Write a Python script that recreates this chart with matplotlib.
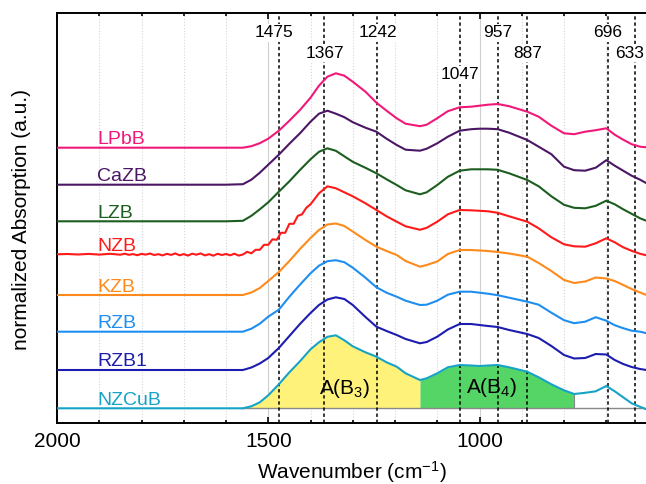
import matplotlib.pyplot as plt
from matplotlib.ticker import MultipleLocator

plt.rcParams['font.family'] = ['Liberation Sans', 'DejaVu Sans']
plt.rcParams['mathtext.default'] = 'regular'

# common wavenumber grid (cm-1)
wn = [2000, 1600, 1560, 1540, 1520, 1500, 1475, 1450, 1425, 1400,
      1380, 1360, 1340, 1320, 1300, 1270, 1244, 1220, 1196, 1175,
      1141, 1125, 1100, 1075, 1047, 1020, 1000, 980, 957, 930,
      887, 860, 830, 800, 776, 750, 725, 700, 680, 660,
      640, 620, 605]

# heights above each baseline (a.u.)
lpbb = [0, 0, 0, 1.5, 4.5, 9, 17, 27, 37.7, 50,
        62, 71, 74.4, 72, 66, 56, 45, 37, 29.4, 24,
        21.5, 23, 29.5, 36.5, 40.4, 41, 42, 43, 43.7, 41.5,
        36, 31, 22, 14.4, 13.5, 16, 17.5, 19.4, 13, 8,
        3.5, 1, 0.4]
cazb = [0, 0, 0.5, 5, 12, 20, 30, 41, 51.4, 63,
        71, 74, 71, 67.5, 62.5, 57, 53, 46, 39.7, 35,
        34, 36, 41.4, 48, 54, 55.5, 56, 56, 55.5, 52,
        44.7, 38, 30.5, 18, 14.5, 14, 17, 24.5, 19, 14,
        9, 5, 1.5]
lzb = [0, 0, 0.5, 5.5, 12, 19, 29.6, 40, 51.3, 62,
       69.5, 73, 70.5, 65, 59.5, 53.5, 48, 42, 36.3, 31,
       27, 29, 36.3, 44.5, 50.6, 52, 52, 52, 51.5, 48,
       41.3, 35, 25, 16.5, 13.5, 13, 15.5, 20.6, 17, 12,
       7.5, 3, 0.5]
kzb = [0, 0, 0, 2.5, 7, 14, 23, 34, 46, 57,
       65, 70.5, 71.5, 69, 63.5, 55, 48.3, 44, 40, 34,
       28.3, 30, 33.5, 41, 45, 45, 44.5, 44, 43, 41.5,
       38.3, 32, 24, 15, 12, 13.5, 17.5, 16.5, 14, 10,
       6, 2.5, 0]
rzb = [0, 0, 0, 3, 8, 15, 22, 35, 47, 58.4,
       66, 70.5, 71.5, 69.5, 64, 54, 44.4, 39, 35, 31,
       26.7, 27, 31, 37, 40, 40, 39, 38, 36.5, 34,
       30, 27, 19, 11.5, 8.5, 10, 14.5, 11, 6.5, 3.5,
       1, 0, -1.5]
rzb1 = [0, 0, 0, 2.5, 6.5, 12, 22, 34, 46, 57,
        65, 70.5, 72.7, 71, 65, 53, 43.3, 39, 35, 31,
        26.7, 28, 33.3, 40.5, 46, 46, 45, 44, 43, 40,
        36, 32, 24, 15, 11.5, 12, 16, 15.5, 10, 6,
        3, 1, 0]
nzcub = [0, 0, 0, 2, 6, 13, 24, 36, 47, 59,
         66, 71.5, 73, 68, 62, 56, 51.6, 46, 41.6, 35,
         28.3, 30, 35, 41, 43.3, 42.8, 42.3, 42.8, 43.3, 41,
         36.6, 31, 24, 18, 14.3, 15.5, 17, 22.3, 17, 11,
         5, 1.5, -1]

# NZB is noisy, so it has its own, denser grid
nzb_wn = [2000, 1975, 1950, 1925, 1900, 1875, 1850, 1840, 1830, 1820,
          1810, 1800, 1790, 1780, 1770, 1760, 1750, 1740, 1730, 1720,
          1710, 1700, 1690, 1680, 1670, 1660, 1650, 1640, 1630, 1620,
          1610, 1600, 1590, 1580, 1570, 1560, 1550, 1540, 1530, 1520,
          1510, 1500, 1490, 1480, 1470, 1460, 1450, 1440, 1430, 1420,
          1410, 1400, 1390, 1380, 1360, 1340, 1320, 1300, 1270, 1244,
          1220, 1196, 1175, 1141, 1125, 1100, 1075, 1047, 1020, 1000,
          980, 957, 930, 887, 860, 830, 800, 776, 750, 725,
          700, 680, 660, 640, 620, 605]
nzb = [0, 0.3, -0.2, 0.4, -0.3, 0.5, -0.4, 0.6, -0.5, 0.2,
       -0.9, 0.4, -0.3, 0.8, -0.7, 0.1, -1.1, 0.5, -0.6, 0.9,
       -1.0, 0.2, -1.3, 0.6, -0.4, 0.9, -1.1, 0.1, -1.4, 0.5,
       -0.7, 0.3, -1.0, 0.6, -1.3, -0.2, 2.5, 1, 4.5, 4.5,
       9.5, 9.5, 15, 14.5, 21.5, 21.5, 30.5, 30.5, 38.5, 40,
       46.5, 50, 55.5, 61, 68, 66, 62, 58, 51, 44.3,
       38, 32.6, 28, 24.5, 26.5, 32.6, 40, 44.3, 44, 43.5,
       43, 41.5, 38, 32.6, 26, 17, 10, 8, 7.6, 11,
       16, 12, 7, 3.5, 0.5, -1]

names = ['LPbB', 'CaZB', 'LZB', 'NZB', 'KZB', 'RZB', 'RZB1', 'NZCuB']
offsets = [260.6, 223.6, 187, 154, 113.3, 76.6, 38.3, 0]
colors = ['#f0197a', '#4b1764', '#1c5e1f', '#ff1a1a', '#ff8a1c',
          '#1e8ef0', '#1c1cb0', '#16a3c6']
series = [(wn, lpbb), (wn, cazb), (wn, lzb), (nzb_wn, nzb), (wn, kzb),
          (wn, rzb), (wn, rzb1), (wn, nzcub)]

peaks = [1475, 1367, 1242, 1047, 957, 887, 696, 633]
peak_text_x = [1487, 1367, 1240, 1047, 957, 887, 696, 644]
peak_row = [0, 1, 0, 2, 0, 1, 0, 1]
row_y = [0.952, 0.903, 0.850]

b3_range = (1600, 1141)
b4_range = (1141, 776)
baseline_start = 1565

fig = plt.figure(figsize=(6.46, 4.84), dpi=100)
ax = fig.add_axes([57 / 646, 60.7 / 484, 589 / 646, 410 / 484])
ax.set_xlim(2000, 606)
ax.set_ylim(-15, 395)

# vertical grid
for g in range(700, 2000, 100):
    if g % 500 == 0:
        ax.axvline(g, color='#cfcfcf', lw=0.8, zorder=0)
    else:
        ax.axvline(g, color='#d6d6d6', lw=0.8, ls=':', zorder=0)

# area fills on NZCuB
ax.fill_between(wn, 0, nzcub, where=[b3_range[1] <= w <= b3_range[0] for w in wn],
                color='#fff27a', lw=0, zorder=1)
ax.fill_between(wn, 0, nzcub, where=[b4_range[1] <= w <= b4_range[0] for w in wn],
                color='#55d566', lw=0, zorder=1)
ax.vlines(b4_range[1], 0, nzcub[wn.index(b4_range[1])], color='#888888', lw=0.8, zorder=1.5)
ax.hlines(0, baseline_start, 606, color='#888888', lw=1.0, zorder=1.5)

ax.text(1319, 20, 'A(B$_3$)', fontsize=15, ha='center', va='center', zorder=4)
ax.text(972, 21, 'A(B$_4$)', fontsize=15, ha='center', va='center', zorder=4)

# dashed peak lines
for p, tx, r in zip(peaks, peak_text_x, peak_row):
    ax.axvline(p, color='black', lw=1.1, ls=(0, (2.2, 1.8)), zorder=2.5)
    ax.text(tx, row_y[r], str(p), transform=ax.get_xaxis_transform(),
            fontsize=12.5, ha='center', va='center', zorder=5,
            bbox=dict(facecolor='white', edgecolor='none', pad=1))

for name, off, c, (x, y) in zip(names, offsets, colors, series):
    ax.plot(x, [v + off for v in y], color=c, lw=1.5, zorder=3)
    ax.text(1905, off + 3.5, name, color=c, fontsize=14, ha='left', va='baseline', zorder=4)

ax.spines['right'].set_visible(False)
for s in ['left', 'top', 'bottom']:
    ax.spines[s].set_linewidth(1.4)
ax.xaxis.set_major_locator(MultipleLocator(500))
ax.xaxis.set_minor_locator(MultipleLocator(100))
ax.tick_params(axis='x', which='both', direction='in', top=True, width=1.2, labelsize=15, pad=6)
ax.tick_params(axis='x', which='major', length=4.5)
ax.tick_params(axis='x', which='minor', length=2.2)
ax.set_yticks([])

fig.text(351.5 / 646, (484 - 471.7) / 484, 'Wavenumber (cm$^{-1}$)', fontsize=15,
         ha='center', va='center')
fig.text(22 / 646, (484 - 219.5) / 484, 'normalized Absorption (a.u.)', fontsize=15,
         ha='center', va='center', rotation=90)

fig.savefig('out.png', dpi=100)
